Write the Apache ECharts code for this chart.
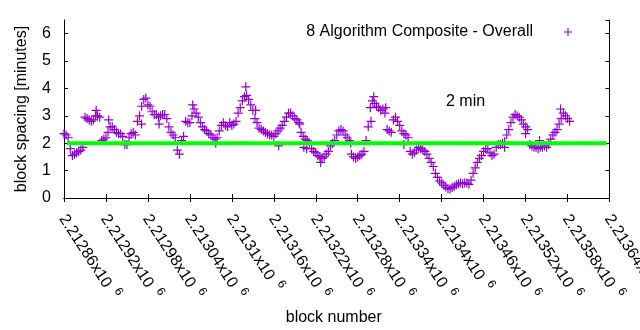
<!DOCTYPE html>
<html>
<head>
<meta charset="utf-8">
<script src="https://cdn.jsdelivr.net/npm/echarts@6/dist/echarts.min.js"></script>
<style>
  html, body { margin: 0; padding: 0; background: #fff; }
  #chart { width: 640px; height: 330px; }
</style>
</head>
<body>
<div id="chart"></div>
<script>
// Block spacing (minutes) of the 8-algorithm composite, one sample every 3 blocks
const FIRST_BLOCK = 2212860;
const BLOCK_STEP = 3;
const spacingMinutes = [
  2.35, 2.3, 2.2, 1.8, 1.55, 1.6, 1.65, 1.7, 1.75, 1.85,
  2.95, 2.9, 2.85, 2.8, 2.85, 3.0, 3.0, 2.95, 2.1, 2.15,
  2.2, 2.4, 2.6, 2.6, 2.5, 2.4, 2.35, 2.35, 2.25, 1.95,
  1.95, 2.2, 2.35, 2.4, 2.3, 2.8, 3.0, 3.35, 3.6, 3.65,
  3.4, 3.35, 3.15, 3.05, 3.05, 2.95, 3.0, 3.05, 3.05, 2.9,
  2.6, 2.4, 2.3, 2.2, 1.75, 1.6, 2.1, 2.25, 2.8, 2.75,
  2.75, 3.0, 3.25, 3.1, 2.95, 2.75, 2.6, 2.5, 2.45, 2.35,
  2.3, 2.2, 2.15, 2.2, 2.45, 2.65, 2.75, 2.65, 2.6, 2.75,
  2.65, 2.7, 2.8, 3.1, 3.3, 3.55, 3.7, 3.75, 3.6, 3.4,
  3.2, 2.9, 2.75, 2.55, 2.5, 2.45, 2.4, 2.35, 2.3, 2.3,
  2.25, 2.35, 2.45, 2.55, 2.65, 2.8, 2.95, 3.1, 3.1, 3.0,
  2.9, 2.85, 2.75, 2.4, 2.25, 2.15, 2.1, 2.0, 1.8, 1.7,
  1.65, 1.55, 1.5, 1.45, 1.5, 1.6, 1.7, 1.9, 2.0, 2.1,
  2.3, 2.45, 2.5, 2.45, 2.3, 2.2, 2.1, 1.6, 1.5, 1.45,
  1.5, 1.55, 1.6, 1.7, 2.1, 2.6, 3.3, 3.55, 3.45, 3.35,
  3.3, 3.2, 3.25, 3.1, 2.5, 2.45, 2.4, 2.85, 2.95, 2.8,
  2.65, 2.45, 2.35, 2.3, 2.2, 1.7, 1.6, 1.65, 1.75, 1.85,
  1.8, 1.75, 1.7, 1.6, 1.45, 1.3, 1.15, 0.9, 0.75, 0.62,
  0.55, 0.47, 0.4, 0.34, 0.33, 0.38, 0.43, 0.48, 0.52, 0.55,
  0.52, 0.55, 0.55, 0.5, 0.65, 0.9, 1.1, 1.3, 1.45, 1.55,
  1.7, 1.8, 1.8, 1.65, 1.55, 1.6, 1.85, 1.95, 1.95, 2.0,
  2.05, 2.3, 2.5, 2.75, 2.95, 3.05, 3.0, 2.95, 2.85, 2.7,
  2.6, 2.5, 1.95, 1.9, 1.85, 1.85, 1.8, 1.85, 1.85, 1.9,
  1.85, 1.95, 2.15, 2.3, 2.4, 2.5, 2.7, 2.9, 3.1, 3.0,
  2.9, 2.8
];

// Individual blocks that stand apart from the running band
const strayBlocks = [
  2212906, 2212924, 2212971, 2212996, 2213044, 2213077, 2213120, 2213134,
  2213167, 2213197, 2213203, 2213207, 2213227, 2213270, 2213299, 2213303,
  2213320, 2213346, 2213490, 2213520, 2213540, 2213570
];
const strayMinutes = [
  3.2, 2.85, 2.7, 2.7, 3.4, 2.0, 4.06, 3.2,
  1.9, 2.7, 1.85, 1.8, 1.3, 2.0, 2.8, 3.7,
  3.3, 1.95, 1.85, 2.35, 2.1, 3.25
];

// Target spacing reference line
const targetMinutes = 2;
const targetBlocks = [2212864, 2213636];

// Axes
const X_MIN = 2212860, X_MAX = 2213640, X_STEP = 60;
const Y_MIN = 0, Y_MAX = 6.5, Y_STEP = 1;

const SERIES_NAME = '8 Algorithm Composite - Overall';
const FONT = '"Liberation Sans", Arial, sans-serif';
const PURPLE = '#9400d3';
// "+" marker as a filled outline, arms about 1.2 px thick at 9 px
const PLUS = 'path://M7.8,0H10.2V7.8H18V10.2H10.2V18H7.8V10.2H0V7.8H7.8Z';

const points = spacingMinutes.map((v, i) => [FIRST_BLOCK + i * BLOCK_STEP, v]);
strayBlocks.forEach((b, i) => points.push([b, strayMinutes[i]]));

const tickFmt = v => '{m|' + String(+(v / 1e6).toFixed(5)) + 'x10}{e|6}';

const frameAxis = {
  min: X_MIN, max: X_MAX, interval: X_STEP,
  axisLine: { show: true, lineStyle: { color: '#000', width: 1 } },
  axisTick: { show: true, inside: true, length: 4, lineStyle: { color: '#000' } },
  splitLine: { show: false }
};

const chart = echarts.init(document.getElementById('chart'), null, { renderer: 'canvas' });
chart.setOption({
  animation: false,
  backgroundColor: '#fff',
  textStyle: { fontFamily: FONT },
  grid: { left: 64, right: 30.5, top: 20, bottom: 132, containLabel: false, outerBoundsMode: 'none' },
  legend: {
    data: [{ name: SERIES_NAME, icon: PLUS }],
    align: 'right',
    right: 68,
    top: 24,
    padding: 0,
    itemWidth: 8,
    itemHeight: 8,
    selectedMode: false,
    textStyle: { fontFamily: FONT, fontSize: 16, color: '#000', padding: [0, 26, 0, 0] }
  },
  xAxis: [
    Object.assign({}, frameAxis, {
      type: 'value', position: 'bottom',
      name: 'block number', nameLocation: 'middle', nameGap: 111,
      nameTextStyle: { fontFamily: FONT, fontSize: 16, color: '#000', padding: [0, 6, 0, 0] },
      axisLabel: {
        show: true, rotate: -57, margin: 17, showMaxLabel: true, showMinLabel: true,
        hideOverlap: false,
        formatter: tickFmt,
        rich: {
          m: { fontFamily: FONT, fontSize: 16, color: '#000', lineHeight: 20, verticalAlign: 'bottom' },
          e: { fontFamily: FONT, fontSize: 12, color: '#000', lineHeight: 12, verticalAlign: 'top', padding: [0, 0, 0, 7] }
        }
      }
    }),
    Object.assign({}, frameAxis, {
      type: 'value', position: 'top', axisLabel: { show: false }
    })
  ],
  yAxis: [
    {
      type: 'value', position: 'left', min: Y_MIN, max: Y_MAX, interval: Y_STEP,
      name: 'block spacing [minutes]', nameLocation: 'middle', nameGap: 34,
      nameTextStyle: { fontFamily: FONT, fontSize: 16, color: '#000' },
      axisLine: { show: true, lineStyle: { color: '#000', width: 1 } },
      axisTick: { show: true, inside: true, length: 4, lineStyle: { color: '#000' } },
      axisLabel: { show: true, margin: 13, showMaxLabel: false, fontFamily: FONT, fontSize: 16, color: '#000' },
      splitLine: { show: false }
    },
    {
      type: 'value', position: 'right', min: Y_MIN, max: Y_MAX, interval: Y_STEP,
      axisLine: { show: true, lineStyle: { color: '#000', width: 1 } },
      axisTick: { show: true, inside: true, length: 4, lineStyle: { color: '#000' } },
      axisLabel: { show: false },
      splitLine: { show: false }
    }
  ],
  graphic: [{
    type: 'text', left: 446, top: 94,
    style: { text: '2 min', font: '16px ' + FONT, fill: '#000' }
  }],
  series: [
    {
      name: SERIES_NAME,
      type: 'scatter',
      xAxisIndex: 0, yAxisIndex: 0,
      symbol: PLUS,
      symbolSize: 9,
      itemStyle: { color: PURPLE, opacity: 1 },
      data: points,
      z: 2
    },
    {
      name: 'target',
      type: 'line',
      xAxisIndex: 0, yAxisIndex: 0,
      showSymbol: false,
      symbol: 'none',
      lineStyle: { color: '#00ff00', width: 4, cap: 'butt' },
      data: targetBlocks.map(b => [b, targetMinutes]),
      z: 3
    }
  ]
});
</script>
</body>
</html>
